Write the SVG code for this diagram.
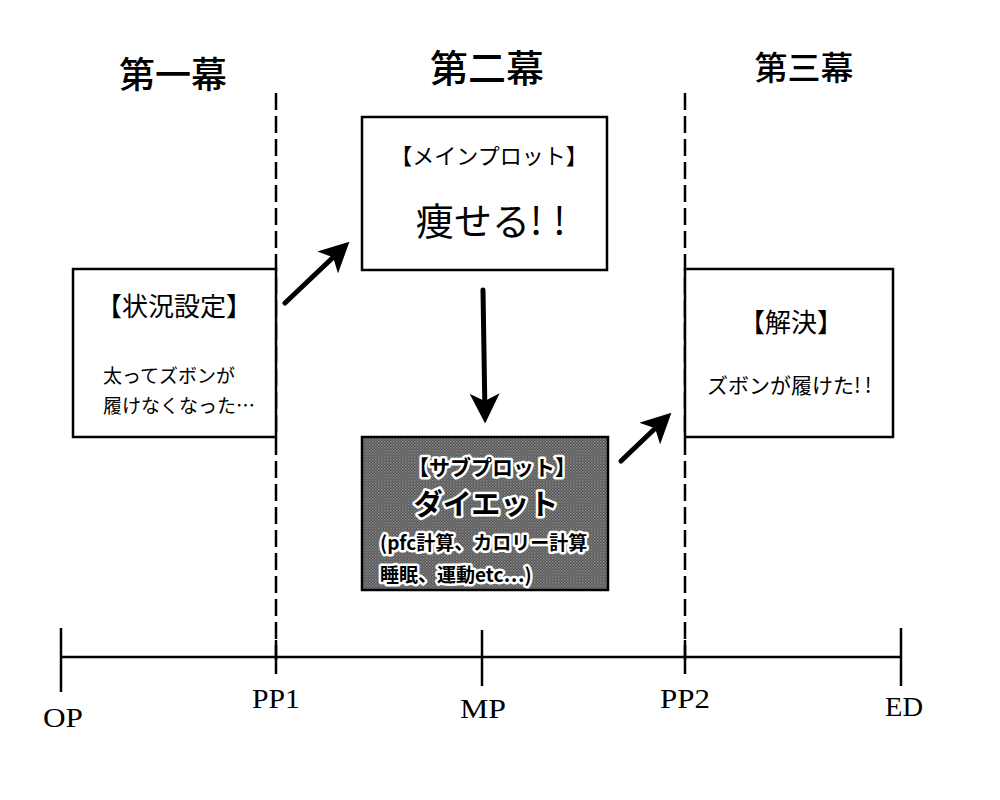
<svg xmlns="http://www.w3.org/2000/svg" width="1000" height="800" viewBox="0 0 1000 800">
  <style>
    .jp { font-family: "Noto Sans CJK JP", "Noto Sans", sans-serif; fill: #000; }
    .box { fill: #fff; stroke: #000; stroke-width: 2.5; }
    .sub { fill: url(#dither); stroke: #000; stroke-width: 2.5; }
    .halo { paint-order: stroke; stroke: #fff; stroke-width: 5; stroke-linejoin: round; font-weight: bold; }
    .act { stroke: #000; stroke-width: 2.5; stroke-dasharray: 17 6; fill: none; }
    .axis { stroke: #000; stroke-width: 2.5; fill: none; }
    .lbl { font-family: "Liberation Serif", serif; font-size: 28px; text-anchor: middle; fill: #000; }
    .arrow { stroke: #000; stroke-width: 5; stroke-linecap: round; fill: none; marker-end: url(#head); }
  </style>
  <defs>
    <pattern id="dither" width="3" height="3" patternUnits="userSpaceOnUse">
      <rect width="3" height="3" fill="#555"/>
      <rect width="1.5" height="1.5" fill="#8a8a8a"/>
      <rect x="1.5" y="1.5" width="1.5" height="1.5" fill="#777"/>
    </pattern>
    <marker id="head" viewBox="0 0 12 12" refX="9" refY="6" markerWidth="6" markerHeight="6" orient="auto" markerUnits="strokeWidth">
      <path d="M0,0 L12,6 L0,12 L3,6 Z" fill="#000"/>
    </marker>
  </defs>

  <g id="titles" class="jp">
    <text x="173" y="88" font-size="36" text-anchor="middle" font-weight="500">第一幕</text>
    <text x="487" y="82" font-size="38" text-anchor="middle" font-weight="500">第二幕</text>
    <text x="804" y="80" font-size="33" text-anchor="middle" font-weight="500">第三幕</text>
  </g>

  <g id="act-lines">
    <line class="act" x1="276" y1="93" x2="276" y2="660"/>
    <line class="act" x1="685" y1="93" x2="685" y2="660"/>
  </g>

  <g id="timeline">
    <line class="axis" x1="61" y1="657" x2="901" y2="657"/>
    <line class="axis" x1="61" y1="628" x2="61" y2="692"/>
    <line class="axis" x1="276" y1="640" x2="276" y2="674"/>
    <line class="axis" x1="482" y1="630" x2="482" y2="686"/>
    <line class="axis" x1="685" y1="640" x2="685" y2="674"/>
    <line class="axis" x1="901" y1="628" x2="901" y2="686"/>
    <text class="lbl" x="63" y="727" textLength="40" lengthAdjust="spacingAndGlyphs">OP</text>
    <text class="lbl" x="276" y="708" textLength="48" lengthAdjust="spacingAndGlyphs">PP1</text>
    <text class="lbl" x="483" y="718" textLength="46" lengthAdjust="spacingAndGlyphs">MP</text>
    <text class="lbl" x="685" y="708" textLength="50" lengthAdjust="spacingAndGlyphs">PP2</text>
    <text class="lbl" x="904" y="716" textLength="38" lengthAdjust="spacingAndGlyphs">ED</text>
  </g>

  <g id="setup">
    <rect class="box" x="73" y="269" width="203" height="168"/>
    <text class="jp" x="174" y="316" font-size="26" text-anchor="middle">【状況設定】</text>
    <text class="jp" x="103" y="383" font-size="19">太ってズボンが</text>
    <text class="jp" x="103" y="413" font-size="19">履けなくなった…</text>
  </g>

  <g id="mainplot">
    <rect class="box" x="362" y="117" width="245" height="153"/>
    <text class="jp" x="489" y="164" font-size="22" text-anchor="middle">【メインプロット】</text>
    <text class="jp" x="416" y="235" font-size="38">痩せる<tspan letter-spacing="11">!!</tspan></text>
  </g>

  <g id="subplot">
    <rect class="sub" x="362" y="437" width="246" height="153"/>
    <text class="jp halo" x="492" y="475" font-size="21" text-anchor="middle">【サブプロット】</text>
    <text class="jp halo" x="486" y="515" font-size="29" text-anchor="middle">ダイエット</text>
    <text class="jp halo" x="380" y="550" font-size="19">(pfc計算、カロリー計算</text>
    <text class="jp halo" x="380" y="582" font-size="19">睡眠、運動etc…)</text>
  </g>

  <g id="resolution">
    <rect class="box" x="685" y="269" width="208" height="168"/>
    <text class="jp" x="791" y="332" font-size="26" text-anchor="middle">【解決】</text>
    <text class="jp" x="707" y="393" font-size="21">ズボンが履けた<tspan letter-spacing="4">!!</tspan></text>
  </g>

  <g id="connectors">
    <line class="arrow" x1="285" y1="303" x2="344" y2="247"/>
    <line class="arrow" x1="483" y1="290" x2="485" y2="416"/>
    <line class="arrow" x1="621" y1="461" x2="666" y2="418"/>
  </g>
</svg>
